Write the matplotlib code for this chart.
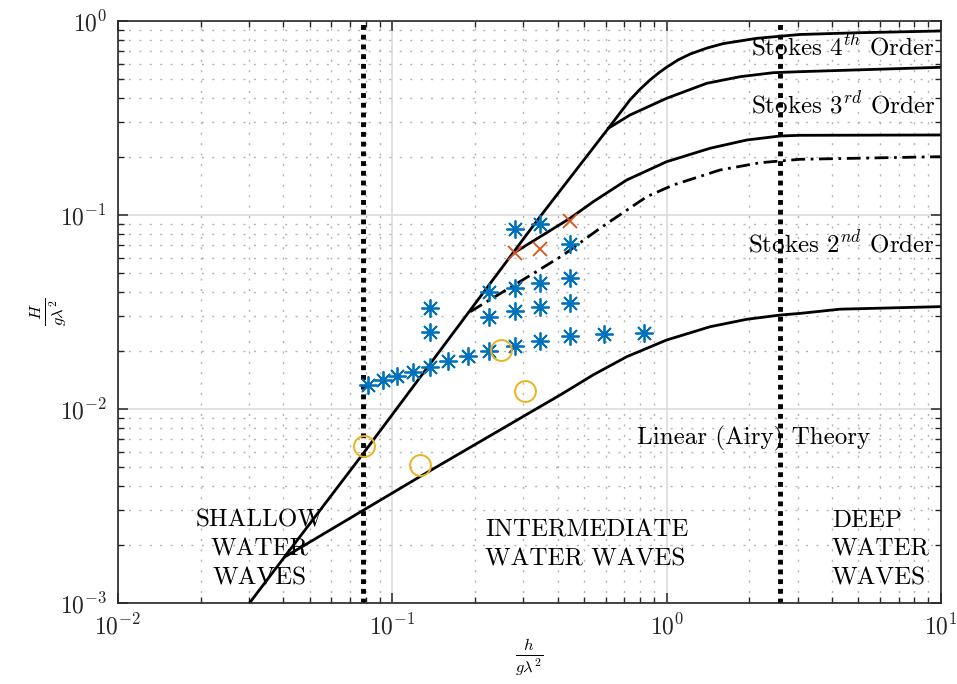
import numpy as np
import matplotlib
matplotlib.use('Agg')
import matplotlib.pyplot as plt

plt.rcParams['font.family'] = 'serif'
plt.rcParams['font.serif'] = ['cmr10']
plt.rcParams['mathtext.fontset'] = 'cm'
plt.rcParams['axes.formatter.use_mathtext'] = True

# 破碎极限 + Stokes 4阶 (一条连续曲线)
x_limit = [0.0301, 0.0784, 0.3454, 0.613, 0.735, 0.80, 0.87, 0.935, 1.0, 1.1, 1.216, 1.4, 1.609, 2.129, 3.06, 5.0, 9.92]
y_limit = [0.000997, 0.00591, 0.098, 0.28, 0.392, 0.445, 0.497, 0.54, 0.578, 0.63, 0.675, 0.725, 0.765, 0.814, 0.852, 0.870, 0.888]
# Stokes 3阶
x_s3 = [0.613, 0.735, 1.0, 1.40, 1.851, 2.447, 3.06, 9.92]
y_s3 = [0.28, 0.3277, 0.3997, 0.4774, 0.5163, 0.5415, 0.548, 0.577]
# Stokes 2阶 上限
x_s2 = [0.276, 0.444, 0.540, 0.715, 1.0, 1.439, 1.957, 2.589, 3.06, 9.92]
y_s2 = [0.0635, 0.0961, 0.1171, 0.1515, 0.1883, 0.2208, 0.2435, 0.2554, 0.2575, 0.2585]
# 点划线
x_dd = [0.192, 0.3177, 0.42, 0.571, 0.846, 1.057, 1.564, 2.189, 3.06, 9.92]
y_dd = [0.0317, 0.0488, 0.0622, 0.0854, 0.1243, 0.1428, 0.1706, 0.186, 0.1937, 0.1998]
# 线性(Airy)理论上限
x_lin = [0.0406, 0.126, 0.3454, 0.4087, 0.540, 0.715, 1.0, 1.439, 1.957, 2.589, 3.06, 4.28, 9.92]
y_lin = [0.00173, 0.00448, 0.01028, 0.0118, 0.0150, 0.0186, 0.02268, 0.02655, 0.029, 0.0305, 0.0311, 0.0327, 0.0337]

# 浅水/深水分界
x_shallow = 0.078
x_deep = 2.59

# 试验点
x_star = [0.0813, 0.0922, 0.1042, 0.1192, 0.1377, 0.16, 0.189, 0.226, 0.279, 0.3454, 0.444, 0.593, 0.827,
          0.1377, 0.1377, 0.226, 0.226, 0.279, 0.279, 0.279,
          0.3454, 0.3454, 0.3454, 0.444, 0.444, 0.444]
y_star = [0.0133, 0.0141, 0.0148, 0.01557, 0.01656, 0.0176, 0.01865, 0.0199, 0.0211, 0.0224, 0.0238, 0.0243, 0.0246,
          0.0249, 0.033, 0.0299, 0.04, 0.032, 0.0422, 0.0844,
          0.0337, 0.0448, 0.0895, 0.0353, 0.0472, 0.0706]
x_cross = [0.279, 0.3454, 0.444]
y_cross = [0.0635, 0.0668, 0.0935]
x_circ = [0.0788, 0.126, 0.248, 0.305]
y_circ = [0.00645, 0.00514, 0.0201, 0.0124]

fig = plt.figure(figsize=(9.57, 6.84), dpi=100)
ax = fig.add_axes([0.1233, 0.1184, 0.8600, 0.8509])

ax.loglog(x_limit, y_limit, 'k-', lw=2)
ax.loglog(x_s3, y_s3, 'k-', lw=2)
ax.loglog(x_s2, y_s2, 'k-', lw=2)
ax.loglog(x_dd, y_dd, 'k', lw=2, linestyle=(0, (5, 2, 1, 2)))
ax.loglog(x_lin, y_lin, 'k-', lw=2)

ax.axvline(x_shallow, color='k', lw=3.5, linestyle=(0, (1, 1)), dash_capstyle='butt')
ax.axvline(x_deep, color='k', lw=3.5, linestyle=(0, (1, 1)), dash_capstyle='butt')

ax.plot(x_star, y_star, linestyle='none', marker=(8, 2, 0), ms=13, mew=1.3, color='#0072BD')
ax.plot(x_cross, y_cross, linestyle='none', marker='x', ms=10, mew=1.3, color='#D95319')
ax.plot(x_circ, y_circ, linestyle='none', marker='o', ms=15, mew=1.4, mfc='none', mec='#EDB120')

fs = 18
ax.text(9.5, 0.734, 'Stokes $4^{th}$ Order', ha='right', va='center', fontsize=fs)
ax.text(9.5, 0.373, 'Stokes $3^{rd}$ Order', ha='right', va='center', fontsize=fs)
ax.text(9.5, 0.0709, 'Stokes $2^{nd}$ Order', ha='right', va='center', fontsize=fs)
ax.text(0.78, 0.00709, 'Linear (Airy) Theory', ha='left', va='center', fontsize=fs)
ax.text(0.0329, 0.00188, 'SHALLOW\nWATER\nWAVES', ha='center', va='center',
        multialignment='center', fontsize=fs, linespacing=1.4)
ax.text(0.2177, 0.00199, 'INTERMEDIATE\nWATER WAVES', ha='left', va='center', fontsize=fs, linespacing=1.4)
ax.text(4.0, 0.00188, 'DEEP\nWATER\nWAVES', ha='left', va='center', fontsize=fs, linespacing=1.4)

ax.set_xlim(1e-2, 1e1)
ax.set_ylim(1e-3, 1e0)
ax.set_xlabel(r'$\frac{h}{g\lambda^2}$', fontsize=17, labelpad=-2)
ax.set_ylabel(r'$\frac{H}{g\lambda^2}$', fontsize=17, labelpad=-7)

ax.grid(True, which='major', color='#dcdcdc', lw=1.2, linestyle='-')
ax.grid(True, which='minor', color='#b4b4b4', lw=1.0, linestyle=(0, (1.5, 6)))
ax.set_axisbelow(True)
ax.tick_params(which='both', direction='in', top=True, right=True, labelsize=17, colors='#262626')
ax.tick_params(axis='x', which='major', pad=8)
ax.tick_params(axis='y', which='major', pad=8)
ax.tick_params(which='major', length=7, width=1.1)
ax.tick_params(which='minor', length=4, width=1.0)
for s in ax.spines.values():
    s.set_color('#262626')
    s.set_linewidth(1.2)

fig.savefig('out.png', dpi=100)
